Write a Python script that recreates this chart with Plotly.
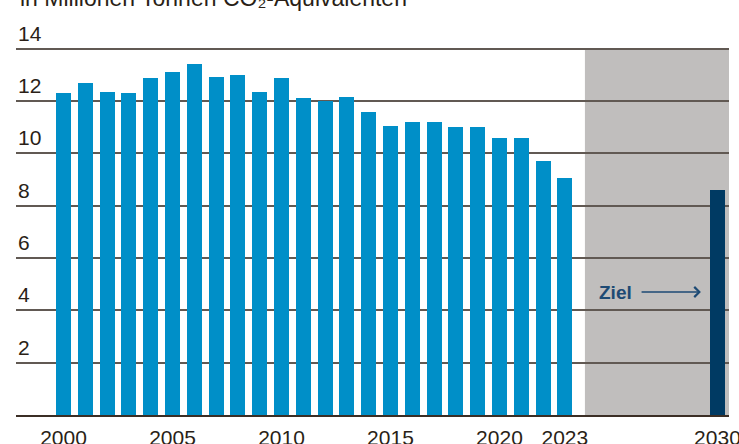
import plotly.graph_objects as go

years = list(range(2000, 2024))
emissions = [12.31, 12.70, 12.35, 12.31, 12.89, 13.12, 13.42, 12.93, 13.00, 12.35,
             12.89, 12.12, 12.00, 12.16, 11.59, 11.05, 11.20, 11.20, 11.01, 11.01,
             10.59, 10.59, 9.71, 9.06]
target_year = [2030]
target_value = [8.6]
x_ticks = [2000, 2005, 2010, 2015, 2020, 2023, 2030]
y_ticks = [2, 4, 6, 8, 10, 12, 14]
title_text = "in Millionen Tonnen CO₂-Äquivalenten"
target_label = "Ziel"

FONT = "Liberation Sans, Arial, sans-serif"
TXT = "#2a1f17"

fig = go.Figure()
fig.add_trace(go.Bar(x=years, y=emissions, width=0.69, marker_color="#008fc8",
                     marker_line_width=0, showlegend=False, hoverinfo="skip"))
fig.add_trace(go.Bar(x=target_year, y=target_value, width=0.69, marker_color="#003a63",
                     marker_line_width=0, showlegend=False, hoverinfo="skip"))

# shaded projection region
fig.add_shape(type="rect", xref="x", yref="y", x0=2023.92, x1=2030.53, y0=0, y1=14,
              fillcolor="#c0bebd", line_width=0, layer="below")

# y tick labels above gridlines
for v in y_ticks:
    fig.add_annotation(x=0, y=v, xref="paper", yref="y", text=str(v), showarrow=False,
                       xanchor="left", yanchor="bottom", xshift=0, yshift=2,
                       font=dict(family=FONT, size=21, color=TXT))

# Ziel label + arrow
fig.add_annotation(x=2026.45, y=4.7, xref="x", yref="y", text="<b>" + target_label + "</b>",
                   showarrow=False, xanchor="right", xshift=-6,
                   font=dict(family=FONT, size=19, color="#1d4a74"))
fig.add_annotation(x=2029.24, y=4.7, xref="x", yref="y", ax=2026.45, ay=4.7,
                   axref="x", ayref="y", text="", showarrow=True, arrowhead=4,
                   arrowsize=1.4, arrowwidth=1.4, arrowcolor="#1d4a74")

# title (cut off at top)
fig.add_annotation(x=0, y=1.09, xref="paper", yref="paper", text=title_text,
                   showarrow=False, xanchor="left", yanchor="bottom", xshift=2,
                   font=dict(family=FONT, size=23, color=TXT))

fig.update_layout(
    width=739, height=444,
    margin=dict(l=16, r=10, t=46, b=29),
    paper_bgcolor="white", plot_bgcolor="white",
    bargap=0, barmode="overlay",
    font=dict(family=FONT, size=21, color=TXT),
)
fig.update_xaxes(range=[1997.82, 2030.53], tickvals=x_ticks, showgrid=False,
                 showline=True, linecolor="#3b2e25", linewidth=2,
                 ticks="outside", ticklen=3, tickcolor="rgba(0,0,0,0)",
                 ticklabeloverflow="allow",
                 tickfont=dict(family=FONT, size=21, color=TXT), automargin=False,
                 zeroline=False)
fig.update_yaxes(range=[0, 14.1], tickvals=y_ticks, showgrid=True,
                 gridcolor="#615953", gridwidth=1.5, zeroline=False,
                 showticklabels=False, ticks="", automargin=False)

fig.write_html("out.html", config={"displayModeBar": False},
               post_script="document.body.style.margin='0';document.body.style.overflow='hidden';")
